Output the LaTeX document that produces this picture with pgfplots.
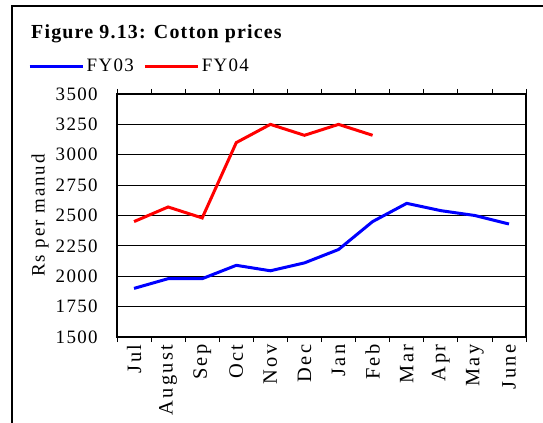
\documentclass[border=0pt]{standalone}
\usepackage{fontspec}
\setmainfont{Liberation Serif}[LetterSpace=7]
\newfontfamily\titlefont{Liberation Serif}[LetterSpace=6]
\newfontfamily\widefont{Liberation Serif}[LetterSpace=10]
\newfontfamily\xfont{Liberation Serif}[LetterSpace=12]
\usepackage{pgfplots}
\pgfplotsset{compat=1.18}
\usepackage{pgfplotstable}

\pgfplotstableread{
x  y
0  1900
1  1980
2  1980
3  2090
4  2045
5  2110
6  2220
7  2450
8  2600
9  2540
10 2500
11 2430
}\fyiii
\pgfplotstableread{
x  y
0  2450
1  2570
2  2480
3  3100
4  3250
5  3160
6  3250
7  3160
}\fyiv

\begin{document}
\begin{tikzpicture}
\begin{axis}[
  scale only axis,
  width=409bp, height=243bp,
  xmin=-0.5, xmax=11.5,
  ymin=1500, ymax=3500,
  ytick={1500,1750,...,3500},
  xtick={0,...,11},
  xticklabels={Jul,August,Sep,Oct,Nov,Dec,Jan,Feb,Mar,Apr,May,June},
  minor xtick={-0.5,0.5,...,11.5},
  major x tick style={draw=none},
  minor x tick style={black, line width=0.8bp},
  minor tick length=5bp,
  tick align=outside,
  ytick style={draw=none},
  ymajorgrids,
  grid style={black, line width=0.8bp},
  axis line style={black, line width=1.2bp},
  /pgf/number format/assume math mode=true,
  /pgf/number format/1000 sep={},
  yticklabel style={font=\fontsize{19}{22}\selectfont, inner sep=0pt, xshift=-15bp},
  xticklabel style={font=\xfont\fontsize{20.5}{23}\selectfont, yshift=-3bp, rotate=90, anchor=east, inner sep=0pt},
  ylabel={Rs per manud},
  ylabel style={font=\widefont\fontsize{19}{22}\selectfont, at={(axis description cs:-0.188,0.5)}, anchor=center},
  legend columns=2,
  legend style={draw=none, fill=none, inner sep=0pt,
    at={(axis description cs:-0.2176,1.115)}, anchor=west,
    font=\fontsize{19}{22}\selectfont,
    nodes={inner xsep=2.5bp, inner ysep=0pt},
    /tikz/every even column/.append style={column sep=7bp}},
  legend image code/.code={\draw[#1] (0bp,0bp) -- (53bp,0bp);},
]
\addplot[blue, line width=3bp] table[x=x, y=y] {\fyiii};
\addlegendentry{FY03}
\addplot[red, line width=3bp] table[x=x, y=y] {\fyiv};
\addlegendentry{FY04}
\end{axis}
\node[anchor=base west, font=\titlefont\bfseries\fontsize{20}{23}\selectfont, inner sep=0pt] at (-86bp,298bp) {Figure 9.13: Cotton prices};
\draw[line width=2bp] (-105bp,-140bp) -- (-105bp,331bp) -- (480bp,331bp);
\pgfresetboundingbox
\useasboundingbox (-117bp,-86bp) rectangle (426bp,337bp);
\end{tikzpicture}
\end{document}
